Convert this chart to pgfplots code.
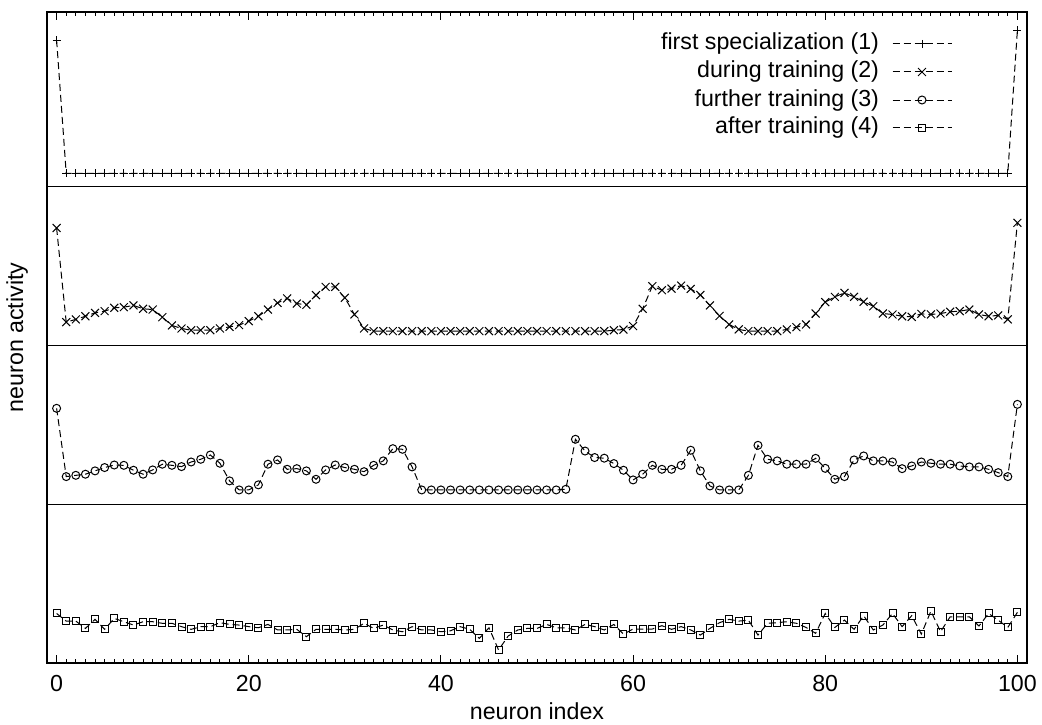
\documentclass[border=0pt]{standalone}
\usepackage{fontspec}
\setmainfont{Liberation Sans}
\usepackage{pgfplots}
\pgfplotsset{compat=1.18}
\usepackage{pgfplotstable}

% activity of the 101 neurons at four stages of training
\pgfplotstableread{
n a b c d
0 0.923 0.740 0.604 0.312
1 0.084 0.147 0.174 0.264
2 0.084 0.164 0.182 0.264
3 0.084 0.184 0.189 0.218
4 0.084 0.205 0.210 0.275
5 0.084 0.216 0.231 0.212
6 0.084 0.237 0.247 0.281
7 0.084 0.241 0.245 0.260
8 0.084 0.252 0.214 0.239
9 0.084 0.231 0.189 0.260
10 0.084 0.226 0.216 0.260
11 0.084 0.178 0.252 0.250
12 0.084 0.126 0.245 0.250
13 0.084 0.107 0.237 0.229
14 0.084 0.096 0.266 0.212
15 0.084 0.096 0.283 0.229
16 0.084 0.096 0.310 0.229
17 0.084 0.107 0.258 0.254
18 0.084 0.117 0.147 0.243
19 0.084 0.128 0.090 0.239
20 0.084 0.153 0.090 0.229
21 0.084 0.184 0.122 0.222
22 0.084 0.226 0.252 0.243
23 0.084 0.268 0.279 0.208
24 0.084 0.296 0.220 0.208
25 0.084 0.264 0.224 0.212
26 0.084 0.256 0.210 0.166
27 0.084 0.317 0.157 0.212
28 0.084 0.369 0.216 0.212
29 0.084 0.369 0.247 0.212
30 0.084 0.300 0.231 0.208
31 0.084 0.195 0.220 0.212
32 0.084 0.107 0.205 0.250
33 0.084 0.090 0.245 0.218
34 0.084 0.090 0.273 0.239
35 0.084 0.090 0.350 0.208
36 0.084 0.090 0.346 0.197
37 0.084 0.090 0.235 0.229
38 0.084 0.090 0.090 0.208
39 0.084 0.090 0.090 0.208
40 0.084 0.090 0.090 0.197
41 0.084 0.090 0.090 0.203
42 0.084 0.090 0.090 0.229
43 0.084 0.090 0.090 0.212
44 0.084 0.090 0.090 0.155
45 0.084 0.090 0.090 0.222
46 0.084 0.090 0.090 0.082
47 0.084 0.090 0.090 0.170
48 0.084 0.090 0.090 0.208
49 0.084 0.090 0.090 0.218
50 0.084 0.090 0.090 0.218
51 0.084 0.090 0.090 0.243
52 0.084 0.090 0.090 0.222
53 0.084 0.090 0.094 0.222
54 0.084 0.090 0.409 0.208
55 0.084 0.090 0.335 0.243
56 0.084 0.090 0.294 0.229
57 0.084 0.090 0.290 0.208
58 0.084 0.096 0.256 0.243
59 0.084 0.100 0.214 0.182
60 0.084 0.122 0.153 0.214
61 0.084 0.231 0.189 0.214
62 0.084 0.373 0.245 0.214
63 0.084 0.348 0.220 0.235
64 0.084 0.358 0.220 0.212
65 0.084 0.377 0.245 0.229
66 0.084 0.356 0.340 0.208
67 0.084 0.318 0.210 0.176
68 0.084 0.252 0.115 0.218
69 0.084 0.186 0.090 0.254
70 0.084 0.132 0.090 0.275
71 0.084 0.101 0.090 0.264
72 0.084 0.090 0.182 0.270
73 0.084 0.090 0.371 0.176
74 0.084 0.090 0.283 0.250
75 0.084 0.090 0.273 0.254
76 0.084 0.101 0.252 0.260
77 0.084 0.115 0.252 0.250
78 0.084 0.132 0.252 0.224
79 0.084 0.201 0.289 0.187
80 0.084 0.273 0.226 0.312
81 0.084 0.306 0.157 0.224
82 0.084 0.331 0.174 0.270
83 0.084 0.306 0.279 0.212
84 0.084 0.275 0.304 0.298
85 0.084 0.247 0.273 0.208
86 0.084 0.201 0.273 0.239
87 0.084 0.195 0.266 0.312
88 0.084 0.184 0.224 0.229
89 0.084 0.180 0.241 0.298
90 0.084 0.199 0.266 0.182
91 0.084 0.195 0.258 0.327
92 0.084 0.201 0.252 0.197
93 0.084 0.212 0.252 0.291
94 0.084 0.216 0.241 0.291
95 0.084 0.226 0.235 0.291
96 0.084 0.195 0.235 0.233
97 0.084 0.184 0.220 0.312
98 0.084 0.189 0.199 0.270
99 0.084 0.164 0.174 0.224
100 0.986 0.772 0.629 0.319
}\activity

\begin{document}
\fontsize{11.6}{14}\selectfont
\begin{tikzpicture}
% page frame around the axis box (axis sits at the origin)
\path[use as bounding box] (-23.5pt,-30.5pt) rectangle (497.5pt,331.5pt);
\begin{axis}[
  name=ax,
  scale only axis,
  width=490pt, height=325.5pt,
  xmin=-1, xmax=101, ymin=0, ymax=4.1,
  ytick=\empty,
  xtick={0,20,...,100},
  minor x tick num=19,
  tick align=inside,
  xtick pos=both, xticklabel pos=lower,
  major tick length=4pt, minor tick length=2pt,
  every tick/.style={black, line width=0.5pt},
  axis line style={line width=0.6pt},
  xticklabel style={yshift=-2pt},
  /pgf/number format/assume math mode=true,
  xlabel={neuron index},
  ylabel={neuron activity},
  xlabel style={at={(axis description cs:0.5,-0.0873)}, anchor=base},
  ylabel style={at={(axis description cs:-0.0306,0.5)}, anchor=center},
  legend cell align=right,
  legend plot pos=right,
  legend style={draw=none, fill=none, at={(rel axis cs:1,1)}, anchor=north east,
    xshift=-37.5pt, yshift=-10.5pt, inner sep=0pt, outer sep=0pt,
    row sep=3pt, column sep=6.5pt,
    nodes={inner sep=0pt, text height=8.5pt, text depth=2.5pt}},
  legend image code/.code={\draw[mark repeat=2, mark phase=2, #1]
    plot coordinates {(0pt,0pt) (14.75pt,0pt) (29.5pt,0pt)};},
  every axis plot/.append style={black, line width=0.5pt,
    dash pattern=on 3.5pt off 2pt, mark options={solid, line width=0.5pt}},
]
\addplot[mark=+, mark size=2pt] table[x=n, y expr=\thisrow{a}+3] {\activity};
\addlegendentry{first specialization (1)}
\addplot[mark=x, mark size=2.8pt] table[x=n, y expr=\thisrow{b}+2] {\activity};
\addlegendentry{during training (2)}
\addplot[mark=o, mark size=2pt] table[x=n, y expr=\thisrow{c}+1] {\activity};
\addlegendentry{further training (3)}
\addplot[mark=square, mark size=1.75pt] table[x=n, y=d] {\activity};
\addlegendentry{after training (4)}
% rules between the four stages
\draw[line width=0.5pt] (axis cs:-1,1) -- (axis cs:101,1);
\draw[line width=0.5pt] (axis cs:-1,2) -- (axis cs:101,2);
\draw[line width=0.5pt] (axis cs:-1,3) -- (axis cs:101,3);
\end{axis}
\end{tikzpicture}
\end{document}
